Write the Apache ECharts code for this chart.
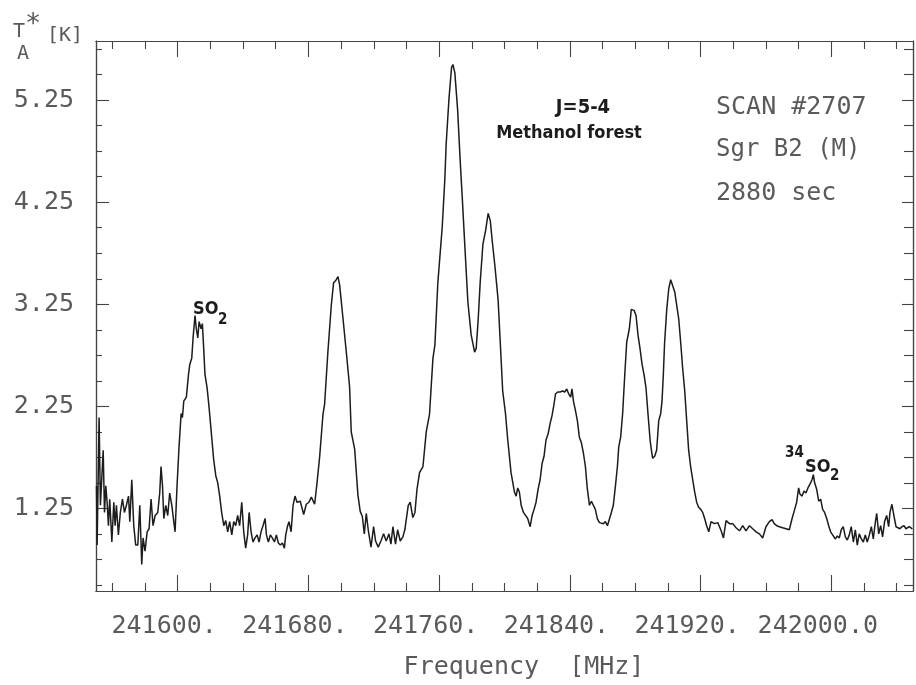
<!DOCTYPE html>
<html>
<head>
<meta charset="utf-8">
<script src="https://cdn.jsdelivr.net/npm/echarts@6.0.0/dist/echarts.min.js"></script>
<style>
html, body { margin: 0; padding: 0; background: #fff; }
#chart { width: 916px; height: 685px; }
</style>
</head>
<body>
<div id="chart"></div>
<script>
// spectrum, [frequency MHz, T_A* K]
// noisy start + SO2 line
let segSO2 = [
    [241550.3, 1.47], [241550.7, 0.89], [241551.9, 2.14], [241552.7, 1.28], [241553.5, 1.53], [241554.4, 1.82],
    [241555.2, 1.21], [241556.0, 1.47], [241556.8, 1.31], [241557.6, 1.08], [241558.4, 1.34], [241559.7, 0.92],
    [241560.9, 1.31], [241561.7, 1.08], [241562.5, 1.28], [241563.7, 0.99], [241564.9, 1.21], [241566.2, 1.34],
    [241567.4, 1.21], [241568.6, 1.28], [241569.9, 1.37], [241570.7, 1.12], [241571.9, 1.53], [241573.1, 1.08],
    [241574.3, 0.89], [241575.6, 0.89], [241576.8, 1.28], [241578.0, 0.70], [241578.8, 0.96], [241580.0, 0.83],
    [241581.3, 1.02], [241582.5, 1.05], [241583.7, 1.34], [241584.9, 1.08], [241586.2, 1.18], [241587.8, 1.21],
    [241589.0, 1.40], [241589.8, 1.66], [241590.7, 1.47], [241591.5, 1.15], [241592.7, 1.28], [241593.9, 1.18],
    [241595.1, 1.40], [241596.4, 1.28], [241597.6, 1.12], [241598.4, 1.02], [241599.6, 1.47], [241600.8, 1.85],
    [241602.1, 2.18], [241602.9, 2.14], [241603.7, 2.30], [241605.3, 2.34], [241606.6, 2.56], [241607.4, 2.66],
    [241608.6, 2.72], [241609.4, 2.92], [241610.6, 3.14], [241611.4, 3.01], [241612.3, 2.92], [241613.1, 3.08],
    [241614.3, 3.01], [241615.1, 3.06], [241615.9, 2.82], [241616.7, 2.56], [241618.0, 2.43], [241619.2, 2.24],
    [241620.8, 1.95], [241622.0, 1.73], [241623.3, 1.57], [241624.5, 1.50], [241625.7, 1.37], [241626.9, 1.21],
    [241628.2, 1.08], [241629.4, 1.13], [241630.6, 1.02], [241631.8, 1.12], [241633.1, 0.99], [241634.3, 1.12],
    [241635.5, 1.08], [241636.7, 1.18], [241637.9, 1.08], [241639.2, 1.31], [241640.4, 1.02], [241641.6, 0.86],
    [241642.8, 0.99], [241643.7, 1.21], [241644.9, 1.02], [241646.1, 0.92], [241647.3, 0.96], [241648.6, 0.99],
    [241649.8, 0.92], [241651.0, 1.02], [241652.2, 1.08], [241653.5, 1.15], [241654.3, 0.99], [241655.5, 0.92],
    [241656.7, 0.99], [241657.9, 0.96], [241659.2, 0.92], [241660.4, 0.99], [241661.6, 0.91], [241662.8, 0.89],
    [241664.1, 0.91], [241665.3, 0.86], [241666.1, 0.99], [241667.3, 1.08], [241668.1, 1.12], [241669.4, 1.02],
    [241670.6, 1.28], [241671.8, 1.37], [241673.0, 1.31]
];

// methanol lines
let segMethanol = [
    [241675.0, 1.32], [241677.1, 1.19], [241678.7, 1.29], [241680.3, 1.31], [241681.8, 1.36], [241683.8, 1.29],
    [241685.2, 1.49], [241686.9, 1.76], [241688.9, 2.17], [241689.9, 2.27], [241691.9, 2.78], [241694.0, 3.24],
    [241695.4, 3.46], [241696.6, 3.48], [241698.1, 3.52], [241699.1, 3.44], [241701.1, 3.12], [241703.2, 2.78],
    [241705.2, 2.44], [241706.2, 2.00], [241708.3, 1.83], [241710.3, 1.38], [241711.7, 1.22], [241713.0, 1.17],
    [241714.2, 1.00], [241715.4, 1.20], [241716.6, 1.04], [241718.3, 0.87], [241719.9, 1.07], [241721.1, 0.93],
    [241722.7, 0.87], [241724.4, 0.93], [241726.0, 1.00], [241727.6, 0.93], [241729.3, 1.00], [241730.5, 0.90],
    [241731.7, 1.07], [241733.3, 0.90], [241734.6, 1.04], [241736.2, 0.93], [241737.8, 0.97], [241739.0, 1.04],
    [241741.1, 1.28], [241742.3, 1.31], [241743.9, 1.16], [241745.2, 1.21], [241746.4, 1.43], [241748.0, 1.60],
    [241750.1, 1.66], [241752.1, 2.00], [241754.1, 2.17], [241756.2, 2.72], [241757.4, 2.85], [241759.2, 3.46],
    [241761.9, 4.01], [241763.5, 4.48], [241764.3, 4.82], [241766.0, 5.26], [241767.6, 5.57], [241768.4, 5.60],
    [241769.6, 5.52], [241771.3, 5.16], [241772.9, 4.65], [241774.1, 4.31], [241775.8, 3.80], [241777.6, 3.27],
    [241779.6, 2.95], [241781.7, 2.78], [241782.7, 2.82], [241783.9, 3.10], [241785.1, 3.46], [241786.8, 3.84],
    [241788.4, 3.97], [241790.0, 4.14], [241791.3, 4.07], [241792.5, 3.87], [241794.1, 3.63], [241796.1, 3.29]
];

let segForest = [
    [241798.9, 2.40], [241800.6, 2.18], [241802.0, 1.92], [241804.0, 1.60], [241806.1, 1.41], [241807.1, 1.37],
    [241808.1, 1.45], [241809.1, 1.41], [241810.2, 1.28], [241811.6, 1.21], [241812.8, 1.21], [241814.2, 1.15],
    [241815.7, 1.07], [241816.9, 1.18], [241818.1, 1.24], [241819.3, 1.31], [241820.6, 1.44], [241821.8, 1.53],
    [241823.0, 1.69], [241824.2, 1.76], [241825.4, 1.92], [241826.7, 1.98], [241827.9, 2.08], [241829.1, 2.16],
    [241830.3, 2.27], [241831.2, 2.37], [241832.6, 2.39], [241834.0, 2.39], [241835.6, 2.40], [241836.9, 2.39],
    [241838.1, 2.42], [241839.3, 2.37], [241840.5, 2.34], [241841.3, 2.42], [241842.2, 2.30], [241843.4, 2.21],
    [241844.6, 2.11], [241845.8, 1.95], [241847.1, 1.89], [241848.3, 1.79], [241849.5, 1.66], [241850.7, 1.44],
    [241852.0, 1.28], [241853.2, 1.32], [241854.4, 1.32], [241855.6, 1.24], [241856.8, 1.15], [241858.1, 1.11],
    [241859.3, 1.12], [241860.5, 1.10], [241861.7, 1.12], [241863.0, 1.08], [241864.2, 1.08], [241865.4, 1.21],
    [241866.6, 1.28], [241867.9, 1.47], [241869.1, 1.66], [241869.9, 1.85], [241871.1, 1.95], [241872.3, 2.18],
    [241873.6, 2.56], [241874.8, 2.88], [241876.4, 3.01], [241877.6, 3.20], [241879.3, 3.19], [241880.5, 3.14],
    [241881.7, 2.95], [241882.9, 2.82], [241884.2, 2.66], [241885.4, 2.56], [241886.6, 2.43], [241887.8, 2.18],
    [241889.1, 1.92], [241889.9, 1.82], [241890.7, 1.74], [241891.9, 1.76], [241893.1, 1.82], [241894.4, 2.11],
    [241895.6, 2.18], [241896.4, 2.30], [241897.2, 2.56], [241898.0, 2.88], [241899.3, 3.20], [241900.5, 3.40],
    [241901.7, 3.49], [241902.9, 3.49], [241904.2, 3.37], [241905.4, 3.24], [241906.6, 3.11], [241907.8, 2.88],
    [241909.0, 2.63], [241910.3, 2.40], [241911.5, 2.11], [241912.7, 1.82], [241913.9, 1.66], [241915.2, 1.53],
    [241916.4, 1.41], [241917.6, 1.31], [241918.8, 1.26], [241920.1, 1.24], [241921.3, 1.21], [241922.5, 1.15],
    [241923.7, 1.08], [241925.0, 1.02]
];

// baseline + 34SO2 line + end of band
let seg34SO2 = [
    [241926.4, 1.12], [241928.5, 1.10], [241930.5, 1.11], [241932.6, 1.03], [241934.0, 0.96], [241935.6, 1.13],
    [241937.7, 1.10], [241939.7, 1.10], [241941.7, 1.06], [241943.8, 1.03], [241945.8, 1.08], [241947.8, 1.03],
    [241949.9, 1.08], [241951.9, 1.05], [241954.0, 1.02], [241956.0, 1.00], [241958.0, 0.96], [241960.0, 1.07],
    [241962.1, 1.12], [241963.7, 1.14], [241965.1, 1.10], [241966.6, 1.08], [241968.2, 1.07], [241970.2, 1.06],
    [241972.3, 1.05], [241974.3, 1.04], [241976.0, 1.15], [241977.6, 1.24], [241978.8, 1.31], [241980.0, 1.45],
    [241980.8, 1.39], [241982.1, 1.37], [241983.3, 1.42], [241984.5, 1.40], [241985.7, 1.45], [241987.0, 1.49],
    [241988.2, 1.53], [241989.0, 1.58], [241989.8, 1.50], [241991.0, 1.44], [241992.3, 1.32], [241993.5, 1.34],
    [241994.7, 1.24], [241995.9, 1.21], [241997.2, 1.15], [241998.4, 1.08], [241999.6, 1.02], [242000.8, 0.99],
    [242002.5, 0.95], [242003.7, 0.98], [242004.9, 0.96], [242006.1, 1.04], [242007.3, 1.07], [242008.6, 0.97],
    [242009.8, 0.94], [242011.0, 0.99], [242012.2, 1.07], [242013.5, 0.92], [242014.7, 1.04], [242015.9, 0.89],
    [242017.1, 1.00], [242018.4, 0.95], [242019.6, 0.92], [242020.8, 0.99], [242022.0, 0.92], [242023.3, 0.99],
    [242024.5, 1.07], [242025.7, 0.95], [242027.0, 1.12], [242027.8, 1.20], [242029.0, 1.00], [242030.2, 1.08],
    [242031.4, 0.97], [242032.6, 1.12], [242033.9, 1.18], [242035.1, 1.07], [242035.9, 1.21], [242037.1, 1.29],
    [242038.3, 1.18], [242039.6, 1.07], [242040.8, 1.08], [242042.0, 1.05], [242043.2, 1.07], [242044.5, 1.08],
    [242045.7, 1.05], [242047.7, 1.07], [242049.6, 1.05]
];

// axis ticks
let freqLabels = [241600, 241680, 241760, 241840, 241920, 242000];
let tempLabels = [1.25, 2.25, 3.25, 4.25, 5.25];

let freqMinor = [];
for (let f = 241560; f <= 242040; f += 20) {
    if ((f - 241600) % 80 !== 0) freqMinor.push(f);
}
let tempMinor = [];
for (let i = 2; i <= 23; i++) {
    if ((i - 5) % 4 !== 0) tempMinor.push(i / 4);
}

let spectrum = segSO2.concat(segMethanol, segForest, seg34SO2);

let chart1 = echarts.init(document.getElementById('chart'), null, {renderer: 'canvas'});

let mono = 'DejaVu Sans Mono';
let grey = '#5a5a5a';
let ink = '#1c1c1c';
let frame = {show: true, onZero: false, lineStyle: {color: '#444', width: 1.2}};
let tickStyle = {color: '#444', width: 1.1};

function xAx(pos, ticks, len, opts) {
    return Object.assign({
        type: 'value', position: pos, min: 241550, max: 242050,
        axisLine: frame,
        axisTick: {show: true, inside: true, length: len, customValues: ticks, lineStyle: tickStyle},
        axisLabel: {show: false},
        splitLine: {show: false}
    }, opts || {});
}
function yAx(pos, ticks, len, opts) {
    return Object.assign({
        type: 'value', position: pos, min: 0.44, max: 5.83,
        axisLine: frame,
        axisTick: {show: true, inside: true, length: len, customValues: ticks, lineStyle: tickStyle},
        axisLabel: {show: false},
        splitLine: {show: false}
    }, opts || {});
}

function txt(x, y, text, size, family, color, weight) {
    return {
        type: 'text', x: x, y: y, silent: true,
        style: {text: text, fontSize: size, fontFamily: family, fill: color,
                fontWeight: weight || 'normal', verticalAlign: 'top'}
    };
}
let bold = 'DejaVu Sans Condensed';

let option = {
    animation: false,
    backgroundColor: '#fff',
    grid: {left: 96, right: 3, top: 41, bottom: 85, containLabel: false},
    xAxis: [
        xAx('bottom', freqLabels, 16, {
            name: 'Frequency  [MHz]',
            nameLocation: 'middle',
            nameGap: 64,
            nameTextStyle: {fontFamily: mono, fontSize: 25, color: grey, padding: [0, 0, 0, 39]},
            axisLabel: {
                show: true, customValues: freqLabels, margin: 23,
                fontFamily: mono, fontSize: 25, color: grey, padding: [0, 27, 0, 0],
                formatter: v => (v === 242000 ? '242000.0' : v + '.')
            }
        }),
        xAx('bottom', freqMinor, 8),
        xAx('top', freqLabels, 16),
        xAx('top', freqMinor, 8)
    ],
    yAxis: [
        yAx('left', tempLabels, 13, {
            axisLabel: {
                show: true, customValues: tempLabels, margin: 22,
                fontFamily: mono, fontSize: 25, color: grey,
                formatter: v => v.toFixed(2)
            }
        }),
        yAx('left', tempMinor, 6),
        yAx('right', tempLabels, 11),
        yAx('right', tempMinor, 9)
    ],
    graphic: [
        // y axis title T_A* [K]
        txt(13, 22, 'T', 20, mono, grey),
        txt(25, 11, '*', 27, mono, grey),
        txt(17, 44, 'A', 20, mono, grey),
        txt(47, 26, '[K]', 20, mono, grey),
        // line labels
        txt(193, 300, 'SO', 18, bold, ink, 'bold'),
        txt(218, 313, '2', 15, bold, ink, 'bold'),
        txt(785, 446, '34', 15, bold, ink, 'bold'),
        txt(805, 458, 'SO', 18, bold, ink, 'bold'),
        txt(830, 469, '2', 15, bold, ink, 'bold'),
        {
            type: 'text', x: 583, y: 98, silent: true,
            style: {text: 'J=5-4', fontSize: 20, fontFamily: bold, fontWeight: 'bold', fill: ink,
                    align: 'center', verticalAlign: 'top'}
        },
        {
            type: 'text', x: 569, y: 124, silent: true,
            style: {text: 'Methanol forest', fontSize: 18, fontFamily: bold, fontWeight: 'bold', fill: ink,
                    align: 'center', verticalAlign: 'top'}
        },
        // scan info
        txt(716, 95, 'SCAN #2707', 25, mono, grey),
        txt(716, 138, 'Sgr B2 (M)', 24, mono, grey),
        txt(716, 181, '2880 sec', 25, mono, grey)
    ],
    series: [{
        name: 'Sgr B2(M)',
        type: 'line',
        xAxisIndex: 0,
        yAxisIndex: 0,
        showSymbol: false,
        symbol: 'none',
        lineStyle: {color: ink, width: 1.5},
        data: spectrum
    }]
};

chart1.setOption(option);
window.onresize = chart1.resize;
</script>
</body>
</html>
